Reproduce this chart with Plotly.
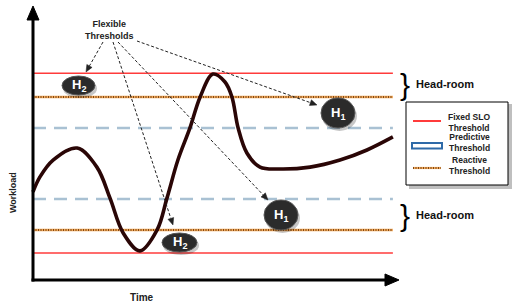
import plotly.graph_objects as go

W, H = 513, 305

# ---------------- data ----------------
time = [0, 1.9, 5.5, 12.1, 17.5, 21.1, 24.7, 29.3, 34.0, 36.7, 39.7, 43.0, 45.8,
        49.3, 52.6, 54.5, 56.2, 58.6, 62.2, 67.7, 75.9, 84.1, 91.5, 98.6]
workload = [32.4, 37.9, 44.1, 48.5, 41.5, 30.1, 17.3, 10.7, 18.4, 30.1, 44.1, 55.9, 67.3,
            75.7, 72.8, 67.3, 55.9, 46.7, 41.5, 40.8, 41.5, 44.1, 47.8, 52.6]

threshold_time = [0, 98.6]
fixed_slo = [76.0, 9.9]          # upper / lower fixed SLO thresholds
reactive = [67.3, 18.4]          # upper / lower reactive thresholds
predictive = [55.9, 29.8]        # upper / lower predictive thresholds

legend_labels = ["Fixed SLO<br>Threshold", "Predictive<br>Threshold", "Reactive<br>Threshold"]
headroom_label = "Head-room"
badge_labels = ["H<sub>2</sub>", "H<sub>2</sub>", "H<sub>1</sub>", "H<sub>1</sub>"]

# ---------------- geometry helpers ----------------
X0_PX, XSCALE = 33, 3.65     # time 0 at px 33
Y0_PX, YSCALE = 280, 2.72    # workload 0 at px 280


def px(x):
    return x / W


def py(y):
    return 1 - y / H


def tri(tip, base_c, half):
    """triangle path (paper coords) given tip and base centre in pixels"""
    tx, ty = tip
    bx, by = base_c
    dx, dy = tx - bx, ty - by
    L = (dx * dx + dy * dy) ** 0.5
    nx, ny = -dy / L * half, dx / L * half
    pts = [(tx, ty), (bx + nx, by + ny), (bx - nx, by - ny)]
    return "M " + " L ".join(f"{px(a):.5f},{py(b):.5f}" for a, b in pts) + " Z"


FONT = "Liberation Sans, Arial, sans-serif"
RED = "#ff3b3b"
BLUE = "#a9c1d3"
ORANGE = "#f0a85a"
DOTS = "#5a2800"
CURVE = "#2a0606"

fig = go.Figure()

for v in fixed_slo:
    fig.add_trace(go.Scatter(x=threshold_time, y=[v, v], mode="lines",
                             line=dict(color=RED, width=1.6), hoverinfo="skip"))
for v in reactive:
    fig.add_trace(go.Scatter(x=threshold_time, y=[v, v], mode="lines",
                             line=dict(color=ORANGE, width=2.4), hoverinfo="skip"))
    fig.add_trace(go.Scatter(x=threshold_time, y=[v, v], mode="lines",
                             line=dict(color=DOTS, width=1.6, dash="1px,1.5px"), hoverinfo="skip"))
for v in predictive:
    fig.add_trace(go.Scatter(x=threshold_time, y=[v, v], mode="lines",
                             line=dict(color=BLUE, width=2.6, dash="13px,8px"), hoverinfo="skip"))

fig.add_trace(go.Scatter(x=time, y=workload, mode="lines", line_shape="spline",
                         line=dict(color=CURVE, width=3.6), hoverinfo="skip"))

xr = [-X0_PX / XSCALE, (W - X0_PX) / XSCALE]
yr = [-(H - Y0_PX) / YSCALE, Y0_PX / YSCALE]

shapes = []
annotations = []


def text(x, y, t, size, color="#222", **kw):
    d = dict(xref="paper", yref="paper", x=px(x), y=py(y), text=t, showarrow=False,
             xanchor="center", yanchor="middle", font=dict(family=FONT, size=size, color=color))
    d.update(kw)
    annotations.append(d)


# axes with arrowheads
shapes.append(dict(type="line", xref="paper", yref="paper", x0=px(33), y0=py(281.5), x1=px(33),
                   y1=py(18), line=dict(color="black", width=3)))
shapes.append(dict(type="path", xref="paper", yref="paper", path=tri((33, 6), (33, 20), 6),
                   fillcolor="black", line=dict(color="black", width=1)))
shapes.append(dict(type="line", xref="paper", yref="paper", x0=px(31.5), y0=py(280), x1=px(388),
                   y1=py(280), line=dict(color="black", width=3)))
shapes.append(dict(type="path", xref="paper", yref="paper", path=tri((399, 280), (385, 280), 6),
                   fillcolor="black", line=dict(color="black", width=1)))

# axis titles
text(142, 297, "<b>Time</b>", 10)
text(13, 193, "<b>Workload</b>", 9, textangle=-90)

# Flexible thresholds label
text(109, 30, "<b>Flexible<br>Thresholds</b>", 9)

# dashed pointer lines
pointers = [((103, 42), (86, 72)), ((113, 42), (173, 225)),
            ((118, 42), (268, 200)), ((137, 41), (317, 105))]
for (sx, sy), (hx, hy) in pointers:
    dx, dy = hx - sx, hy - sy
    L = (dx * dx + dy * dy) ** 0.5
    ux, uy = dx / L, dy / L
    ex, ey = hx - ux * 7, hy - uy * 7
    shapes.append(dict(type="line", xref="paper", yref="paper", x0=px(sx), y0=py(sy),
                       x1=px(ex), y1=py(ey), line=dict(color="#222", width=1, dash="3px,2px")))
    shapes.append(dict(type="path", xref="paper", yref="paper", path=tri((hx, hy), (ex, ey), 3),
                       fillcolor="#222", line=dict(color="#222", width=0.5)))

# badges
badges = [(78.5, 85.5, 33, 19), (179.5, 242.5, 35, 19), (338, 113, 34, 30), (281, 215, 34, 30)]
for (cx, cy, bw, bh), lab in zip(badges, badge_labels):
    shapes.append(dict(type="circle", xref="paper", yref="paper",
                       x0=px(cx - bw / 2 + 1), x1=px(cx + bw / 2 + 2), y0=py(cy - bh / 2 + 3),
                       y1=py(cy + bh / 2 + 3), fillcolor="rgba(0,0,0,0.22)", line_width=0))
    shapes.append(dict(type="circle", xref="paper", yref="paper",
                       x0=px(cx - bw / 2), x1=px(cx + bw / 2), y0=py(cy - bh / 2),
                       y1=py(cy + bh / 2), fillcolor="#2b2b2b", line=dict(color="#555", width=1)))
    text(cx, cy, "<b>" + lab + "</b>", 13, color="white")

# head-room braces
for cy in (84, 215):
    text(404.5, cy, "}", 30, color="black")
    text(414, cy, "<b>" + headroom_label + "</b>", 11, color="#111", xanchor="left")

# custom legend
shapes.append(dict(type="rect", xref="paper", yref="paper", x0=px(409), x1=px(512), y0=py(104),
                   y1=py(189), fillcolor="rgba(0,0,0,0.25)", line_width=0))
shapes.append(dict(type="rect", xref="paper", yref="paper", x0=px(406), x1=px(508), y0=py(102),
                   y1=py(185), fillcolor="white", line=dict(color="black", width=1)))
shapes.append(dict(type="line", xref="paper", yref="paper", x0=px(413), x1=px(441), y0=py(121),
                   y1=py(121), line=dict(color=RED, width=2)))
shapes.append(dict(type="rect", xref="paper", yref="paper", x0=px(412), x1=px(442), y0=py(143),
                   y1=py(148.5), fillcolor="white", line=dict(color="#2e6aa8", width=2)))
shapes.append(dict(type="line", xref="paper", yref="paper", x0=px(413), x1=px(441), y0=py(168),
                   y1=py(168), line=dict(color=ORANGE, width=2.2)))
shapes.append(dict(type="line", xref="paper", yref="paper", x0=px(413), x1=px(441), y0=py(168),
                   y1=py(168), line=dict(color=DOTS, width=1.4, dash="1px,1.5px")))
for cy, lab in zip((122, 142.5, 165), legend_labels):
    text(469, cy, "<b>" + lab + "</b>", 8.5)

fig.update_layout(
    width=W, height=H, margin=dict(l=0, r=0, t=0, b=0),
    paper_bgcolor="white", plot_bgcolor="white", showlegend=False,
    xaxis=dict(range=xr, visible=False, fixedrange=True),
    yaxis=dict(range=yr, visible=False, fixedrange=True),
    shapes=shapes, annotations=annotations,
)

fig.write_html("out.html", config={"displayModeBar": False},
               post_script="document.body.style.margin='0';document.body.style.overflow='hidden';")
